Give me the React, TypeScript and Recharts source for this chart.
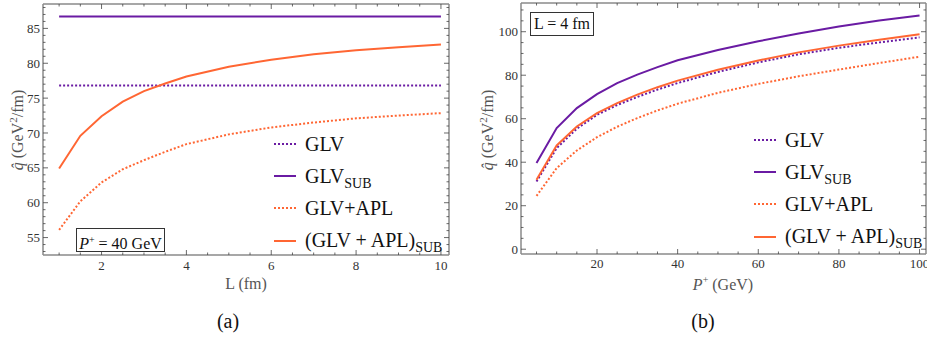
import React from 'react'
import { Line, LineChart, XAxis, YAxis } from 'recharts'

// panel (a): q-hat against L at P+ = 40 GeV
const lValues = [1, 1.5, 2, 2.5, 3, 3.5, 4, 5, 6, 7, 8, 9, 10]
const aGlv = [76.8, 76.8, 76.8, 76.8, 76.8, 76.8, 76.8, 76.8, 76.8, 76.8, 76.8, 76.8, 76.8]
const aGlvSub = [86.7, 86.7, 86.7, 86.7, 86.7, 86.7, 86.7, 86.7, 86.7, 86.7, 86.7, 86.7, 86.7]
const aGlvApl = [56.1, 60.2, 62.9, 64.8, 66.1, 67.3, 68.4, 69.8, 70.8, 71.5, 72.1, 72.5, 72.85]
const aGlvAplSub = [64.9, 69.6, 72.4, 74.5, 76.0, 77.1, 78.1, 79.5, 80.5, 81.3, 81.85, 82.3, 82.7]

// panel (b): q-hat against P+ at L = 4 fm
const pValues = [5, 10, 15, 20, 25, 30, 35, 40, 50, 60, 70, 80, 90, 100]
const bGlv = [31.1, 46.5, 55.4, 61.8, 66.3, 70.0, 73.4, 76.4, 81.5, 85.9, 89.6, 92.6, 95.1, 97.4]
const bGlvSub = [39.6, 55.7, 64.9, 71.3, 76.4, 80.3, 83.7, 86.9, 91.6, 95.6, 99.2, 102.4, 105.2, 107.5]
const bGlvApl = [24.5, 37.3, 45.4, 51.5, 56.3, 60.3, 63.8, 66.9, 71.9, 76.0, 79.5, 82.6, 85.6, 88.5]
const bGlvAplSub = [31.9, 47.7, 56.4, 62.6, 67.2, 71.1, 74.5, 77.5, 82.5, 86.8, 90.5, 93.6, 96.3, 98.8]

// tick positions (minor + major)
const aTicksX = [1, 1.5, 2, 2.5, 3, 3.5, 4, 4.5, 5, 5.5, 6, 6.5, 7, 7.5, 8, 8.5, 9, 9.5, 10]
const aTicksY = [53, 54, 55, 56, 57, 58, 59, 60, 61, 62, 63, 64, 65, 66, 67, 68, 69, 70, 71, 72, 73, 74, 75, 76, 77, 78, 79, 80, 81, 82, 83, 84, 85, 86, 87, 88]
const bTicksX = [5, 10, 15, 20, 25, 30, 35, 40, 45, 50, 55, 60, 65, 70, 75, 80, 85, 90, 95, 100]
const bTicksY = [0, 5, 10, 15, 20, 25, 30, 35, 40, 45, 50, 55, 60, 65, 70, 75, 80, 85, 90, 95, 100, 105, 110]

const dataA = lValues.map((L, i) => ({
    L,
    glv: aGlv[i],
    glvSub: aGlvSub[i],
    glvApl: aGlvApl[i],
    glvAplSub: aGlvAplSub[i],
}))

const dataB = pValues.map((P, i) => ({
    P,
    glv: bGlv[i],
    glvSub: bGlvSub[i],
    glvApl: bGlvApl[i],
    glvAplSub: bGlvAplSub[i],
}))

const PURPLE = '#6a1ba3'
const ORANGE = '#ff6633'
const SERIF = '"Liberation Serif", "DejaVu Serif", serif'
const FRAME = '#8a8a8a'

type Side = 'bottom' | 'top' | 'left' | 'right'

// inward Mathematica-style frame ticks, label only on the bottom/left majors
function frameTick(side: Side, step: number, labelDy: number) {
    return (props: any) => {
        const { x, y, payload } = props
        const v = payload.value
        const major = Math.abs(v / step - Math.round(v / step)) < 1e-6
        const len = major ? 5 : 2.5
        let line
        if (side === 'bottom') line = <line x1={x} x2={x} y1={y} y2={y - len} />
        else if (side === 'top') line = <line x1={x} x2={x} y1={y} y2={y + len} />
        else if (side === 'left') line = <line x1={x} x2={x + len} y1={y} y2={y} />
        else line = <line x1={x} x2={x - len} y1={y} y2={y} />
        const textStyle = { fontFamily: SERIF, fontSize: 13 }
        let label = null
        if (major && side === 'bottom') {
            label = (
                <text x={x} y={y + labelDy} textAnchor="middle" fill="#333" style={textStyle}>
                    {v}
                </text>
            )
        }
        if (major && side === 'left') {
            label = (
                <text x={x - 3} y={y} dy="0.35em" textAnchor="end" fill="#333" style={textStyle}>
                    {v}
                </text>
            )
        }
        return (
            <g>
                <g stroke="#444" strokeWidth={0.8}>{line}</g>
                {label}
            </g>
        )
    }
}

function LegendBox({ left, top }: { left: number; top: number }) {
    const rows = [
        { color: PURPLE, dash: true, text: <>GLV</> },
        { color: PURPLE, dash: false, text: <>GLV<span style={{ fontSize: 14, position: 'relative', top: 5 }}>SUB</span></> },
        { color: ORANGE, dash: true, text: <>GLV+APL</> },
        { color: ORANGE, dash: false, text: <>(GLV + APL)<span style={{ fontSize: 14, position: 'relative', top: 5 }}>SUB</span></> },
    ]
    return (
        <div style={{ position: 'absolute', left, top, fontFamily: SERIF, fontSize: 20, color: '#111' }}>
            {rows.map((r, i) => (
                <div key={i} style={{ position: 'absolute', left: 0, top: i * 32.2, whiteSpace: 'nowrap', height: 22, display: 'flex', alignItems: 'center' }}>
                    <svg width={22} height={6} style={{ marginRight: 9 }}>
                        <line x1={0} x2={22} y1={3} y2={3} stroke={r.color} strokeWidth={2} strokeDasharray={r.dash ? '2 2' : undefined} />
                    </svg>
                    <span>{r.text}</span>
                </div>
            ))}
        </div>
    )
}

function Panel(props: {
    left: number
    width: number
    margin: { top: number; right: number; bottom: number; left: number }
    data: any[]
    xKey: string
    xDomain: [number, number]
    yDomain: [number, number]
    ticksX: number[]
    ticksY: number[]
    stepX: number
    stepY: number
    labelDy: number
}) {
    const { left, width, margin, data, xKey, xDomain, yDomain, ticksX, ticksY, stepX, stepY, labelDy } = props
    return (
        <div style={{ position: 'absolute', left, top: 0 }}>
            <LineChart width={width} height={340} data={data} margin={margin}>
                <XAxis
                    xAxisId="b"
                    dataKey={xKey}
                    type="number"
                    domain={xDomain}
                    allowDataOverflow
                    ticks={ticksX}
                    interval={0}
                    height={1}
                    tickSize={0}
                    tickMargin={0}
                    tickLine={false}
                    axisLine={{ stroke: FRAME, strokeWidth: 1.5 }}
                    tick={frameTick('bottom', stepX, labelDy)}
                />
                <XAxis
                    xAxisId="t"
                    orientation="top"
                    dataKey={xKey}
                    type="number"
                    domain={xDomain}
                    allowDataOverflow
                    ticks={ticksX}
                    interval={0}
                    height={1}
                    tickSize={0}
                    tickMargin={0}
                    tickLine={false}
                    axisLine={{ stroke: FRAME, strokeWidth: 1.5 }}
                    tick={frameTick('top', stepX, 0)}
                />
                <YAxis
                    yAxisId="l"
                    type="number"
                    domain={yDomain}
                    allowDataOverflow
                    ticks={ticksY}
                    interval={0}
                    width={1}
                    tickSize={0}
                    tickMargin={0}
                    tickLine={false}
                    axisLine={{ stroke: FRAME, strokeWidth: 1.5 }}
                    tick={frameTick('left', stepY, 0)}
                />
                <YAxis
                    yAxisId="r"
                    orientation="right"
                    type="number"
                    domain={yDomain}
                    allowDataOverflow
                    ticks={ticksY}
                    interval={0}
                    width={1}
                    tickSize={0}
                    tickMargin={0}
                    tickLine={false}
                    axisLine={{ stroke: FRAME, strokeWidth: 1.5 }}
                    tick={frameTick('right', stepY, 0)}
                />
                <Line xAxisId="b" yAxisId="l" type="linear" dataKey="glvApl" stroke={ORANGE} strokeWidth={2} strokeDasharray="2 2" dot={false} isAnimationActive={false} />
                <Line xAxisId="b" yAxisId="l" type="linear" dataKey="glv" stroke={PURPLE} strokeWidth={2} strokeDasharray="2 2" dot={false} isAnimationActive={false} />
                <Line xAxisId="b" yAxisId="l" type="linear" dataKey="glvAplSub" stroke={ORANGE} strokeWidth={2} dot={false} isAnimationActive={false} />
                <Line xAxisId="b" yAxisId="l" type="linear" dataKey="glvSub" stroke={PURPLE} strokeWidth={2} dot={false} isAnimationActive={false} />
            </LineChart>
        </div>
    )
}

const yTitle = (
    <>
        <i>q&#770;</i> (GeV<sup style={{ fontSize: 11 }}>2</sup>/fm)
    </>
)

export default function App() {
    return (
        <div style={{ position: 'absolute', left: 0, top: 0, width: 927, height: 340, background: '#fff', fontFamily: SERIF }}>
            <Panel
                left={0}
                width={460}
                margin={{ top: 3, right: 10, bottom: 84, left: 42 }}
                data={dataA}
                xKey="L"
                xDomain={[0.62, 10.19]}
                yDomain={[52.5, 88.5]}
                ticksX={aTicksX}
                ticksY={aTicksY}
                stepX={2}
                stepY={5}
                labelDy={14.5}
            />
            <Panel
                left={460}
                width={467}
                margin={{ top: 2, right: 0, bottom: 85, left: 60 }}
                data={dataB}
                xKey="P"
                xDomain={[1.15, 101.6]}
                yDomain={[-2.2, 113.2]}
                ticksX={bTicksX}
                ticksY={bTicksY}
                stepX={20}
                stepY={20}
                labelDy={14}
            />

            {/* panel (a) texts */}
            <div style={{ position: 'absolute', left: 76, top: 228, width: 87, height: 22, border: '1px solid #333', background: '#fff', fontSize: 16, lineHeight: '22px', textAlign: 'center', color: '#111', whiteSpace: 'nowrap' }}>
                <i>P</i><sup style={{ fontSize: 10 }}>+</sup> = 40 GeV
            </div>
            <LegendBox left={274} top={133} />
            <div style={{ position: 'absolute', left: 246, top: 284, transform: 'translate(-50%, -50%)', fontSize: 16, color: '#555', whiteSpace: 'nowrap' }}>
                L (fm)
            </div>
            <div style={{ position: 'absolute', left: 17, top: 130, transform: 'translate(-50%, -50%) rotate(-90deg)', fontSize: 16, color: '#555', whiteSpace: 'nowrap' }}>
                {yTitle}
            </div>
            <div style={{ position: 'absolute', left: 228, top: 321, transform: 'translate(-50%, -50%)', fontSize: 20, color: '#111' }}>
                (a)
            </div>

            {/* panel (b) texts */}
            <div style={{ position: 'absolute', left: 530, top: 12, width: 62, height: 22, border: '1px solid #333', background: '#fff', fontSize: 16, lineHeight: '22px', textAlign: 'center', color: '#111', whiteSpace: 'nowrap' }}>
                L = 4 fm
            </div>
            <LegendBox left={754} top={129} />
            <div style={{ position: 'absolute', left: 723, top: 284, transform: 'translate(-50%, -50%)', fontSize: 16, color: '#555', whiteSpace: 'nowrap' }}>
                <i>P</i><sup style={{ fontSize: 10 }}>+</sup> (GeV)
            </div>
            <div style={{ position: 'absolute', left: 487, top: 130, transform: 'translate(-50%, -50%) rotate(-90deg)', fontSize: 16, color: '#555', whiteSpace: 'nowrap' }}>
                {yTitle}
            </div>
            <div style={{ position: 'absolute', left: 703, top: 321, transform: 'translate(-50%, -50%)', fontSize: 20, color: '#111' }}>
                (b)
            </div>
        </div>
    )
}
